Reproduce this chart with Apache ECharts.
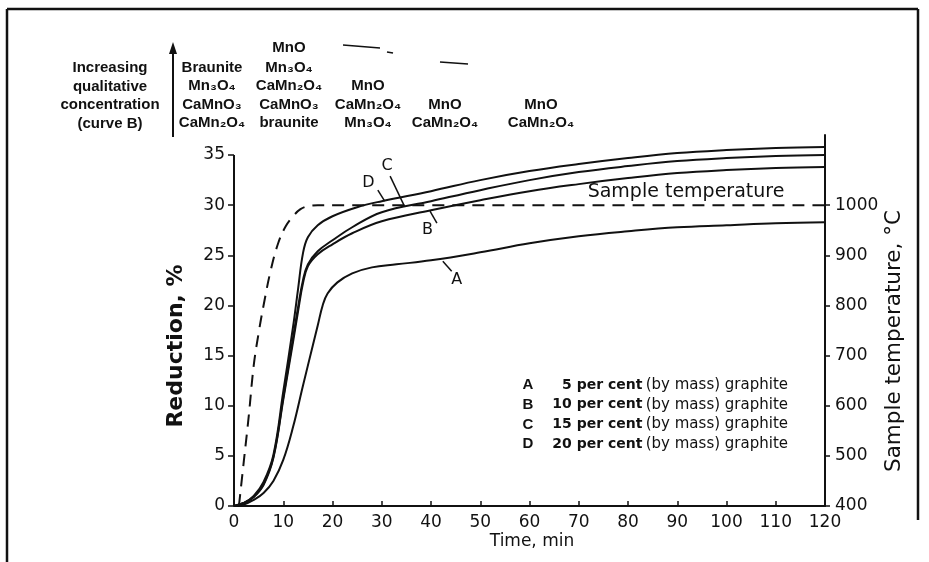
<!DOCTYPE html>
<html>
<head>
<meta charset="utf-8">
<script src="https://cdn.jsdelivr.net/npm/echarts@6/dist/echarts.min.js"></script>
<style>
  html, body { margin: 0; padding: 0; background: #fff; }
  #chart { width: 929px; height: 562px; }
</style>
</head>
<body>
<div id="chart"></div>
<script>
// Axis ticks
const timeTicks = [0, 10, 20, 30, 40, 50, 60, 70, 80, 90, 100, 110, 120];
const reductionTicks = [0, 5, 10, 15, 20, 25, 30, 35];
const temperatureTicks = [400, 500, 600, 700, 800, 900, 1000];

// Reduction (%) against time (min) for each graphite addition: [time, reduction]
const curveA = [[0,0],[2,0.15],[4,0.6],[6,1.3],[8,2.5],[10,4.6],[12,7.9],[14,12.0],[16,16.0],[17,18.0],[18,20.0],[19,21.2],[21,22.3],[24,23.2],[28,23.8],[33,24.1],[40,24.5],[50,25.3],[60,26.2],[70,26.9],[80,27.4],[90,27.8],[100,28.0],[110,28.2],[120,28.3]];
const curveB = [[0,0],[2,0.3],[4,0.9],[6,2.1],[8,4.8],[10,10.6],[12,16.4],[13,19.4],[14,22.2],[15,23.9],[17,25.1],[20,26.1],[24,27.2],[30,28.4],[40,29.5],[50,30.5],[60,31.4],[70,32.1],[80,32.7],[90,33.2],[100,33.5],[110,33.7],[120,33.8]];
const curveC = [[0,0],[2,0.3],[4,0.9],[6,2.2],[8,4.9],[10,10.8],[12,16.8],[13,19.8],[14,22.5],[15,24.1],[17,25.4],[20,26.5],[24,27.8],[30,29.3],[40,30.4],[50,31.5],[60,32.5],[70,33.3],[80,33.9],[90,34.4],[100,34.7],[110,34.9],[120,35.0]];
const curveD = [[0,0],[2,0.3],[4,1.0],[6,2.4],[8,5.1],[10,11.4],[12,17.9],[13,21.6],[14,25.2],[15,26.8],[17,28.0],[20,28.9],[25,29.8],[30,30.4],[40,31.4],[50,32.5],[60,33.4],[70,34.1],[80,34.7],[90,35.2],[100,35.5],[110,35.7],[120,35.8]];

// Sample temperature (°C) against time (min): [time, temperature]
const sampleTemperature = [[1,400],[2,490],[3,580],[4,680],[5,745],[6,800],[7.5,872],[9,925],[10.5,958],[12,978],[13.5,992],[15,998],[17,1000],[120,1000]];

// Curve letters and key entries
const curveLetters = ['A', 'B', 'C', 'D'];
const graphiteShares = ['5', '10', '15', '20'];

// Phase columns above the plot (curve B), listed top to bottom
const phaseColumns = [
  ['Braunite', 'Mn₃O₄', 'CaMnO₃', 'CaMn₂O₄'],
  ['MnO', 'Mn₃O₄', 'CaMn₂O₄', 'CaMnO₃', 'braunite'],
  ['MnO', 'CaMn₂O₄', 'Mn₃O₄'],
  ['MnO', 'CaMn₂O₄'],
  ['MnO', 'CaMn₂O₄']
];
const phaseCaption = ['Increasing', 'qualitative', 'concentration', '(curve B)'];

const INK = '#111';
const TICK_FONT = '"DejaVu Sans", sans-serif';
const BOLD_FONT = '"Liberation Sans", Arial, "DejaVu Sans", sans-serif';

const chart = echarts.init(document.getElementById('chart'), null, { renderer: 'canvas' });

function curveSeries(name, data) {
  return {
    name: name,
    type: 'line',
    data: data,
    xAxisIndex: 0,
    yAxisIndex: 0,
    smooth: 0.4,
    symbol: 'none',
    lineStyle: { color: INK, width: 2 }
  };
}

const plainNumber = function (v) { return String(v); };

chart.setOption({
  animation: false,
  backgroundColor: '#fff',
  grid: { left: 234, right: 104, top: 135, bottom: 56, containLabel: false },
  xAxis: {
    type: 'value',
    min: 0, max: 120, interval: 10,
    axisLine: { show: true, lineStyle: { color: INK, width: 2 } },
    axisTick: { show: true, inside: true, length: 5, lineStyle: { color: INK, width: 1.5 } },
    axisLabel: { color: INK, fontFamily: TICK_FONT, fontSize: 17, margin: 8,
                 customValues: timeTicks, formatter: plainNumber },
    splitLine: { show: false }
  },
  yAxis: [
    {
      type: 'value', position: 'left',
      min: 0, max: 37,
      axisLine: { show: false },
      axisTick: { show: true, inside: false, length: 6, lineStyle: { color: INK, width: 1.5 },
                  customValues: reductionTicks },
      axisLabel: { color: INK, fontFamily: TICK_FONT, fontSize: 17, margin: 9,
                   customValues: reductionTicks, formatter: plainNumber },
      splitLine: { show: false }
    },
    {
      type: 'value', position: 'right',
      min: 400, max: 1140,
      axisLine: { show: true, lineStyle: { color: INK, width: 2 } },
      axisTick: { show: true, inside: false, length: 5, lineStyle: { color: INK, width: 1.5 },
                  customValues: temperatureTicks },
      axisLabel: { color: INK, fontFamily: TICK_FONT, fontSize: 17, margin: 10,
                   customValues: temperatureTicks, formatter: plainNumber },
      splitLine: { show: false }
    }
  ],
  series: [
    curveSeries('A', curveA),
    curveSeries('B', curveB),
    curveSeries('C', curveC),
    curveSeries('D', curveD),
    {
      name: 'Sample temperature',
      type: 'line',
      data: sampleTemperature,
      xAxisIndex: 0,
      yAxisIndex: 1,
      smooth: 0.4,
      symbol: 'none',
      lineStyle: { color: INK, width: 2, type: [12, 8] }
    }
  ]
});

// Pixel position of a (time, reduction) pair
function at(t, r) {
  return chart.convertToPixel({ xAxisIndex: 0, yAxisIndex: 0 }, [t, r]);
}

function seg(p, q, width) {
  return {
    type: 'line',
    shape: { x1: p[0], y1: p[1], x2: q[0], y2: q[1] },
    style: { stroke: INK, lineWidth: width || 1.5 },
    silent: true
  };
}

function text(x, y, str, opts) {
  return {
    type: 'text',
    x: x, y: y,
    rotation: (opts && opts.rotation) || 0,
    style: Object.assign({
      text: str,
      fill: INK,
      font: 'bold 14px ' + BOLD_FONT,
      align: 'center',
      verticalAlign: 'middle'
    }, (opts && opts.style) || {}),
    silent: true
  };
}

const g = [];

// Page frame
g.push(seg([7, 9], [918, 9], 2.5));
g.push(seg([7, 9], [7, 562], 2.5));
g.push(seg([918, 9], [918, 520], 2.5));

// Left axis line runs only over the labelled range
g.push(seg(at(0, 0), at(0, 35), 2));

// Axis titles
g.push(text(532, 542, 'Time, min', { style: { font: '17px ' + TICK_FONT } }));
g.push(text(176, 346, 'Reduction, %', { rotation: Math.PI / 2, style: { font: 'bold 22px ' + TICK_FONT } }));
g.push(text(894, 341, 'Sample temperature, °C', { rotation: Math.PI / 2, style: { font: '21.5px ' + TICK_FONT } }));

// Label on the temperature trace
g.push(text(686, 192, 'Sample temperature', { style: { font: '19px ' + TICK_FONT } }));

// Curve letters with leader lines, placed in data coordinates
const letterMarks = {
  D: { text: [27.3, 32.2], from: [29.2, 31.5], to: [30.6, 30.4] },
  C: { text: [31.1, 33.9], from: [31.7, 32.9], to: [34.6, 29.9] },
  B: { text: [39.3, 27.5], from: [39.8, 29.4], to: [41.2, 28.2] },
  A: { text: [45.2, 22.6], from: [42.4, 24.4], to: [44.2, 23.4] }
};
curveLetters.forEach(function (k) {
  const m = letterMarks[k];
  const p = at(m.text[0], m.text[1]);
  g.push(text(p[0], p[1], k, { style: { font: '16px ' + TICK_FONT } }));
  g.push(seg(at(m.from[0], m.from[1]), at(m.to[0], m.to[1]), 1.5));
});

// Key to the curves
curveLetters.forEach(function (k, i) {
  const y = 385 + i * 19.7;
  g.push(text(528, y, k, { style: { font: 'bold 15px ' + BOLD_FONT } }));
  g.push({
    type: 'text', x: 788, y: y, silent: true,
    style: {
      text: '{b|' + graphiteShares[i] + ' per cent} {n|(by mass) graphite}',
      align: 'right', verticalAlign: 'middle',
      rich: {
        b: { font: 'bold 14px ' + TICK_FONT, fill: INK },
        n: { font: '15px ' + TICK_FONT, fill: INK }
      }
    }
  });
});

// Phase caption and arrow
phaseCaption.forEach(function (s, i) {
  g.push(text(110, 68 + i * 18.5, s, { style: { font: 'bold 15px ' + BOLD_FONT } }));
});
g.push(seg([173, 137], [173, 50], 2));
g.push({
  type: 'polygon', silent: true,
  shape: { points: [[173, 42], [169, 54], [177, 54]] },
  style: { fill: INK }
});

// Phase columns: rows share a common bottom line
const columnX = [212, 289, 368, 445, 541];
const rowY = [48, 68, 86, 105, 123];
phaseColumns.forEach(function (col, c) {
  const offset = rowY.length - col.length;
  col.forEach(function (s, r) {
    g.push(text(columnX[c], rowY[offset + r], s, { style: { font: 'bold 15px ' + BOLD_FONT } }));
  });
});

// Stray pen strokes in the header
g.push(seg([343, 45], [380, 48], 1.5));
g.push(seg([387, 52], [393, 53], 1.5));
g.push(seg([440, 62], [468, 64], 1.5));

chart.setOption({ graphic: g });
</script>
</body>
</html>
